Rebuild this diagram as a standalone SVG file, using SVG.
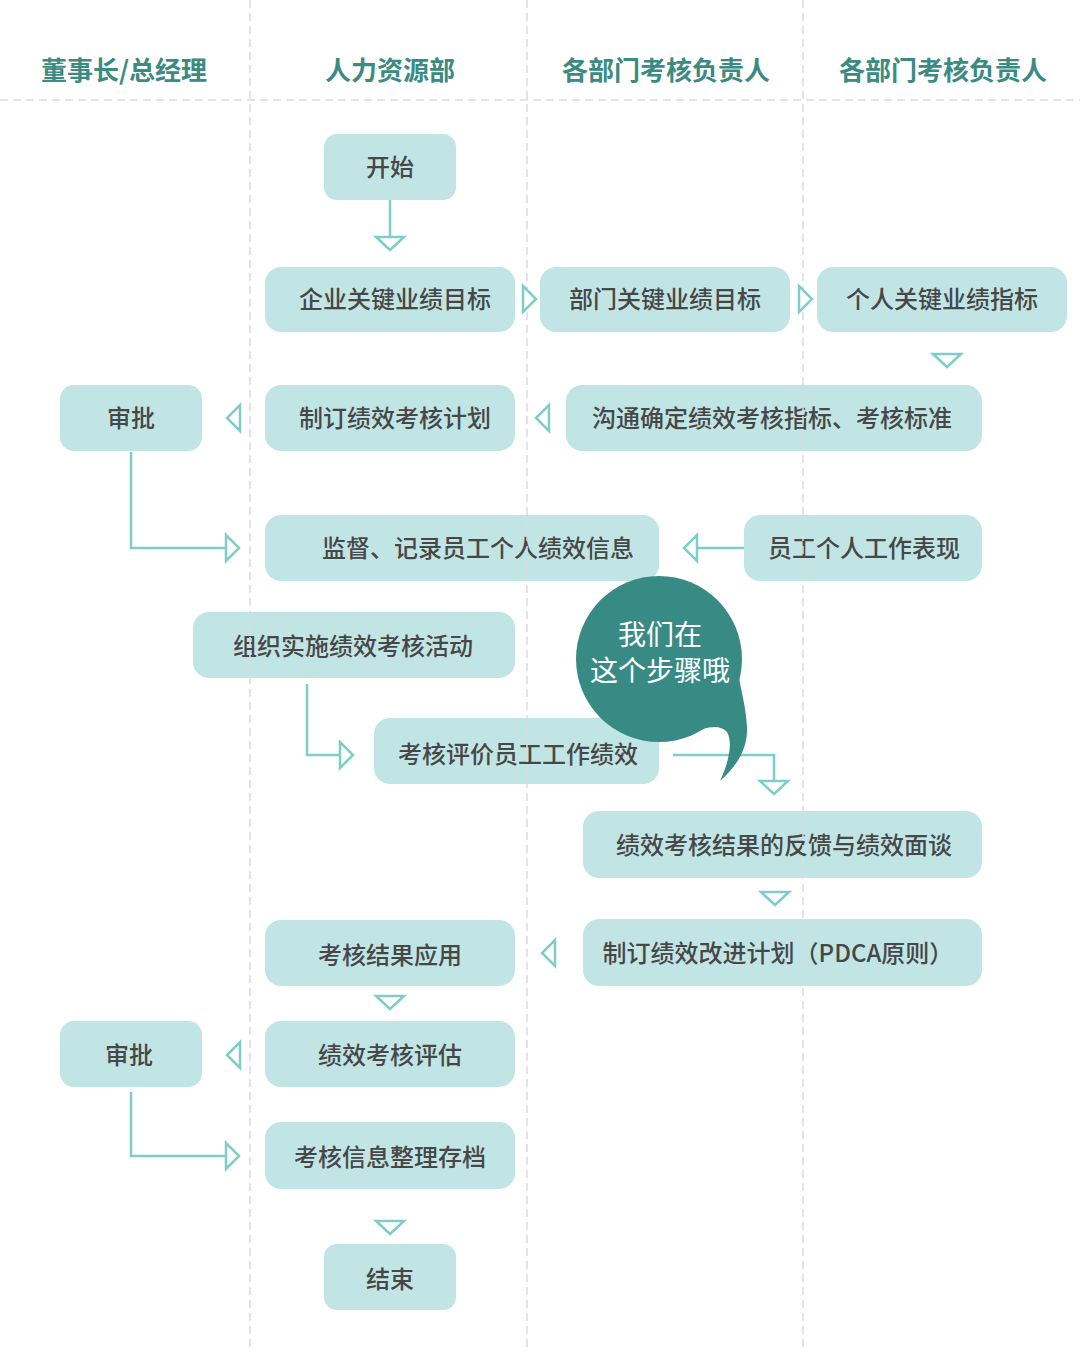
<svg xmlns="http://www.w3.org/2000/svg" width="1080" height="1352" viewBox="0 0 1080 1352">
<defs>
<style>
.bg{fill:#ffffff}
.lane{stroke:#dcdcdc;stroke-width:1.5;stroke-dasharray:8 5;fill:none}
.hd{font-family:"Noto Sans CJK SC","Noto Sans",sans-serif;font-size:26px;font-weight:bold;fill:#3b8b83;text-anchor:middle}
.box{fill:#c0e5e4}
.t{font-family:"Noto Sans CJK SC","Noto Sans",sans-serif;font-size:24px;font-weight:500;fill:#474747;text-anchor:middle;dominant-baseline:central}
.ln{stroke:#7ecdca;stroke-width:2.5;fill:none}
.ar{stroke:#7ecdca;stroke-width:2.5;fill:#ffffff;stroke-linejoin:miter}
.bub{fill:#388b85}
.bt{font-family:"Noto Sans CJK SC","Noto Sans",sans-serif;font-size:28px;fill:#ffffff;text-anchor:middle}
</style>
</defs>
<rect class="bg" x="0" y="0" width="1080" height="1352"/>

<g id="headers">
<text class="hd" x="124" y="80">董事长/总经理</text>
<text class="hd" x="390" y="80">人力资源部</text>
<text class="hd" x="666" y="80">各部门考核负责人</text>
<text class="hd" x="943" y="80">各部门考核负责人</text>
</g>

<g id="n-start"><rect class="box" x="324" y="134" width="132" height="66" rx="13"/><text class="t" x="390" y="165">开始</text></g>
<g id="n-qiye"><rect class="box" x="265" y="267" width="250" height="65" rx="16"/><text class="t" x="395" y="297">企业关键业绩目标</text></g>
<g id="n-bumen"><rect class="box" x="540" y="267" width="250" height="65" rx="16"/><text class="t" x="665" y="297">部门关键业绩目标</text></g>
<g id="n-geren"><rect class="box" x="817" y="267" width="250" height="65" rx="16"/><text class="t" x="942" y="297">个人关键业绩指标</text></g>
<g id="n-shenpi1"><rect class="box" x="60" y="385" width="142" height="66" rx="14"/><text class="t" x="131" y="416">审批</text></g>
<g id="n-zhiding"><rect class="box" x="265" y="385" width="250" height="66" rx="16"/><text class="t" x="395" y="416">制订绩效考核计划</text></g>
<g id="n-goutong"><rect class="box" x="566" y="385" width="416" height="66" rx="16"/><text class="t" x="772" y="416">沟通确定绩效考核指标、考核标准</text></g>
<g id="n-jiandu"><rect class="box" x="265" y="515" width="394" height="66" rx="16"/><text class="t" x="478" y="546">监督、记录员工个人绩效信息</text></g>
<g id="n-biaoxian"><rect class="box" x="744" y="515" width="238" height="66" rx="16"/><text class="t" x="864" y="546">员工个人工作表现</text></g>
<g id="n-zuzhi"><rect class="box" x="193" y="612" width="322" height="66" rx="16"/><text class="t" x="353" y="644">组织实施绩效考核活动</text></g>
<g id="n-pingjia"><rect class="box" x="374" y="718" width="285" height="66" rx="16"/><text class="t" x="518" y="752">考核评价员工工作绩效</text></g>
<g id="n-fankui"><rect class="box" x="583" y="811" width="399" height="67" rx="16"/><text class="t" x="784" y="843">绩效考核结果的反馈与绩效面谈</text></g>
<g id="n-gaijin"><rect class="box" x="583" y="919" width="399" height="67" rx="16"/><text class="t" x="778" y="951">制订绩效改进计划（PDCA原则）</text></g>
<g id="n-yingyong"><rect class="box" x="265" y="920" width="250" height="66" rx="16"/><text class="t" x="390" y="953">考核结果应用</text></g>
<g id="n-shenpi2"><rect class="box" x="60" y="1021" width="142" height="66" rx="14"/><text class="t" x="129" y="1053">审批</text></g>
<g id="n-pinggu"><rect class="box" x="265" y="1021" width="250" height="66" rx="16"/><text class="t" x="390" y="1053">绩效考核评估</text></g>
<g id="n-cundang"><rect class="box" x="265" y="1122" width="250" height="67" rx="16"/><text class="t" x="390" y="1155">考核信息整理存档</text></g>
<g id="n-end"><rect class="box" x="324" y="1244" width="132" height="66" rx="13"/><text class="t" x="390" y="1277">结束</text></g>

<g id="lanes">
<line class="lane" x1="0" y1="100" x2="1080" y2="100"/>
<line class="lane" x1="250" y1="0" x2="250" y2="1352"/>
<line class="lane" x1="527" y1="0" x2="527" y2="1352"/>
<line class="lane" x1="803" y1="0" x2="803" y2="1352"/>
</g>

<g id="connectors">
<line class="ln" x1="390" y1="200" x2="390" y2="237"/>
<polygon class="ar" points="376,237 404,237 390,250"/>
<polygon class="ar" points="523,286 523,312 536,299"/>
<polygon class="ar" points="799,286 799,312 812,299"/>
<polygon class="ar" points="933,354 961,354 947,367"/>
<polygon class="ar" points="549,405 549,431 536,418"/>
<polygon class="ar" points="240,405 240,431 227,418"/>
<polyline class="ln" points="131,452 131,548 225,548"/>
<polygon class="ar" points="226,535 226,561 239,548"/>
<line class="ln" x1="744" y1="548" x2="697" y2="548"/>
<polygon class="ar" points="697,535 697,561 684,548"/>
<polyline class="ln" points="307,684 307,755 340,755"/>
<polygon class="ar" points="340,742 340,768 353,755"/>
<polyline class="ln" points="673,755 774,755 774,781"/>
<polygon class="ar" points="760,781 788,781 774,794"/>
<polygon class="ar" points="761,892 789,892 775,905"/>
<polygon class="ar" points="555,940 555,966 542,953"/>
<polygon class="ar" points="376,996 404,996 390,1009"/>
<polygon class="ar" points="240,1042 240,1068 227,1055"/>
<polyline class="ln" points="131,1092 131,1156 225,1156"/>
<polygon class="ar" points="226,1143 226,1169 239,1156"/>
<polygon class="ar" points="376,1221 404,1221 390,1234"/>
</g>

<g id="bubble">
<circle class="bub" cx="659" cy="659" r="83"/>
<path class="bub" d="M 690,735 C 705,726 720,724 727,732 C 733,742 729,762 720,781 C 737,766 748,748 747,727 C 746,708 742,695 738,672 L 700,700 Z"/>
<text class="bt" x="660" y="645">我们在</text>
<text class="bt" x="660" y="681" font-size="29">这个步骤哦</text>
</g>
</svg>
